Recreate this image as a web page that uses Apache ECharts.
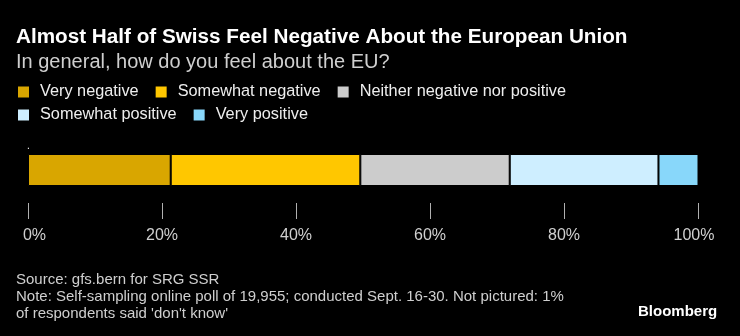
<!DOCTYPE html>
<html>
<head>
<meta charset="utf-8">
<script src="https://cdn.jsdelivr.net/npm/echarts@6/dist/echarts.min.js"></script>
<style>
html,body{margin:0;padding:0;background:#000;}
#c{width:740px;height:336px;}
</style>
</head>
<body>
<div id="c"></div>
<script>
const categories = ['.'];
const seriesNames = ['Very negative', 'Somewhat negative', 'Neither negative nor positive', 'Somewhat positive', 'Very positive'];
const seriesValues = [21.3, 28.3, 22.3, 22.2, 6.1];
const seriesColors = ['#d9a600', '#ffc700', '#cccccc', '#ceeeff', '#88d7fa'];
const tickValues = [0, 20, 40, 60, 80, 100];

const FONT = '"Liberation Sans", Arial, sans-serif';
const chart = echarts.init(document.getElementById('c'));
const option = {
  backgroundColor: '#000000',
  animation: false,
  textStyle: { fontFamily: FONT },
  title: [
    { text: 'Almost Half of Swiss Feel Negative About the European Union', left: 16, top: 27, padding: 0,
      textStyle: { color: '#ffffff', fontSize: 20.7, fontWeight: 'bold', fontFamily: FONT } },
    { text: 'In general, how do you feel about the EU?', left: 16, top: 52, padding: 0,
      textStyle: { color: '#cfcfcf', fontSize: 20, fontWeight: 'normal', fontFamily: FONT } },
    { text: 'Source: gfs.bern for SRG SSR\nNote: Self-sampling online poll of 19,955; conducted Sept. 16-30. Not pictured: 1%\nof respondents said \'don\'t know\'',
      left: 16, top: 271, padding: 0,
      textStyle: { color: '#cfcfcf', fontSize: 15, lineHeight: 17, fontWeight: 'normal', fontFamily: FONT } },
    { text: 'Bloomberg', left: 638, top: 304, padding: 0,
      textStyle: { color: '#ffffff', fontSize: 15, fontWeight: 'bold', fontFamily: FONT } }
  ],
  legend: [
    { data: seriesNames.slice(0, 3), left: 16, top: 84, padding: 0, icon: 'rect', itemWidth: 13, itemHeight: 13, itemGap: 15,
      textStyle: { color: '#eeeeee', fontSize: 16.3, fontFamily: FONT, padding: [0, 0, 0, 5] }, selectedMode: false },
    { data: seriesNames.slice(3), left: 16, top: 107, padding: 0, icon: 'rect', itemWidth: 13, itemHeight: 13, itemGap: 15,
      textStyle: { color: '#eeeeee', fontSize: 16.3, fontFamily: FONT, padding: [0, 0, 0, 5] }, selectedMode: false }
  ],
  grid: { left: 28, right: 42, top: 154, height: 32, containLabel: false },
  xAxis: {
    type: 'value', min: 0, max: 100, interval: 20, offset: 17,
    axisLine: { show: false },
    axisTick: { show: true, length: 16, lineStyle: { color: '#b0b0b0', width: 1 } },
    splitLine: { show: false },
    axisLabel: { color: '#d0d0d0', fontSize: 16, margin: 25, fontFamily: FONT,
      formatter: v => {
        if (!tickValues.includes(v)) return '';
        if (v === 0) return '{first|' + v + '%}';
        if (v === 100) return '{last|' + v + '%}';
        return v + '%';
      },
      rich: {
        first: { color: '#d0d0d0', fontSize: 16, fontFamily: FONT, padding: [0, 0, 0, 13] },
        last: { color: '#d0d0d0', fontSize: 16, fontFamily: FONT, padding: [0, 8, 0, 0] }
      }
    }
  },
  yAxis: {
    type: 'category', data: categories,
    axisLine: { show: false }, axisTick: { show: false },
    axisLabel: { show: false }
  },
  graphic: [
    { type: 'text', left: 27, top: 141, style: { text: '.', fill: '#ffffff', font: '10px ' + FONT } }
  ],
  series: seriesNames.map((name, i) => ({
    name, type: 'bar', stack: 'total', barWidth: 32,
    data: [seriesValues[i]],
    itemStyle: { color: seriesColors[i], borderColor: '#000000', borderWidth: 1 }
  }))
};
chart.setOption(option);
</script>
</body>
</html>
